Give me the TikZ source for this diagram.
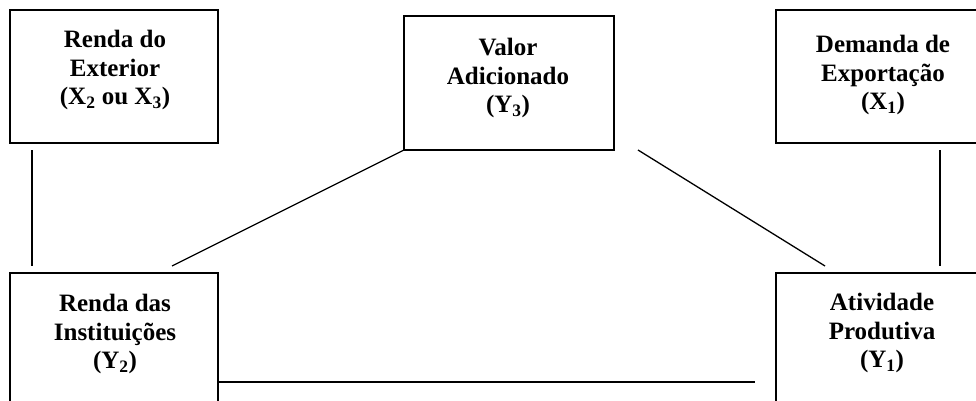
\documentclass[tikz,border=0pt]{standalone}
\usepackage{fontspec}
\setmainfont{Liberation Serif}
\begin{document}
\begin{tikzpicture}[x=1pt,y=-1pt,
  box/.style={draw, line width=1.8pt, rectangle, inner sep=0pt, outer sep=0pt},
  lbl/.style={anchor=north, align=center, inner sep=0pt,
              font=\fontsize{25}{28.5}\selectfont\bfseries},
  link/.style={line width=1.3pt}]
\useasboundingbox (0,0) rectangle (976,401);
\clip (0,0) rectangle (976,401);

% boxes
\node[box, minimum width=208pt, minimum height=133pt] (ext)  at (114,76.5)  {};
\node[box, minimum width=210pt, minimum height=134pt] (va)   at (509,83)    {};
\node[box, minimum width=212pt, minimum height=133pt] (dem)  at (882,76.5)  {};
\node[box, minimum width=208pt, minimum height=133pt] (inst) at (114,339.5) {};
\node[box, minimum width=212pt, minimum height=133pt] (ativ) at (882,339.5) {};

% labels
\node[lbl] (extT)  at (115,30)  {Renda do\\Exterior\\(X\textsubscript{2} ou X\textsubscript{3})};
\node[lbl] (vaT)   at (508,38)  {Valor\\Adicionado\\(Y\textsubscript{3})};
\node[lbl] (demT)  at (883,35)  {Demanda de\\Exportação\\(X\textsubscript{1})};
\node[lbl] (instT) at (115,294) {Renda das\\Instituições\\(Y\textsubscript{2})};
\node[lbl] (ativT) at (882,293) {Atividade\\Produtiva\\(Y\textsubscript{1})};

% connectors
\draw[link] ([xshift=22pt,yshift=-7pt]ext.south west) -- ([xshift=22pt,yshift=7pt]inst.north west);
\draw[link] (va.south west) -- ([xshift=162pt,yshift=7pt]inst.north west);
\draw[link] ([xshift=24pt]va.south east) -- ([xshift=49pt,yshift=7pt]ativ.north west);
\draw[link] ([xshift=164pt,yshift=-7pt]dem.south west) -- ([xshift=164pt,yshift=7pt]ativ.north west);
\draw[link] ([yshift=-42.5pt]inst.east) -- ([xshift=-21pt,yshift=-42.5pt]ativ.west);
\end{tikzpicture}
\end{document}
